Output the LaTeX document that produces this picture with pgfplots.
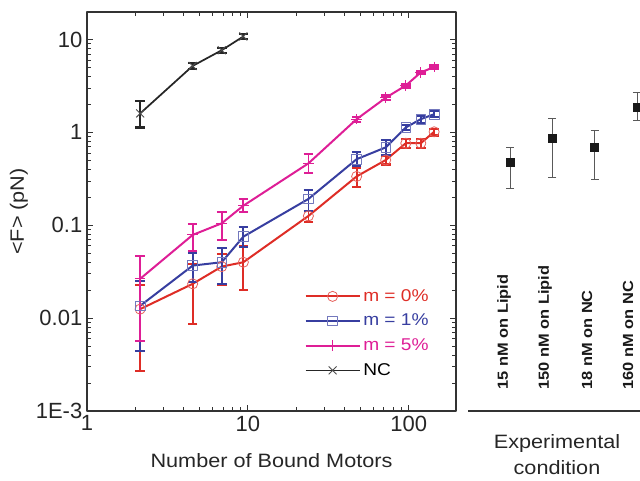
\documentclass[border=0pt]{standalone}
\usepackage{fontspec}
\setmainfont{Liberation Sans}
\newfontfamily\widefont{Liberation Sans}[FakeStretch=1.12]
\usepackage{pgfplots}
\usepackage{pgfplotstable}
\pgfplotsset{compat=1.18}

\definecolor{cred}{RGB}{222,45,38}
\definecolor{cblue}{RGB}{55,62,160}
\definecolor{cmag}{RGB}{222,30,150}

\pgfplotstableread{
x y ep em
2.14 0.0125 0.0103 0.0098
4.54 0.0234 0.0146 0.0148
6.88 0.0359 0.0131 0.0131
9.38 0.0400 0.0199 0.0199
23.8 0.126 0.0175 0.017
47.5 0.336 0.074 0.075
72 0.504 0.060 0.052
96 0.765 0.085 0.09
119 0.765 0.085 0.09
144 1.015 0.085 0.09
}\datared

\pgfplotstableread{
x y ep em
2.14 0.01356 0.0116 0.0091
4.54 0.0368 0.0132 0.0122
6.88 0.0400 0.0166 0.0166
9.38 0.0754 0.0196 0.0165
23.8 0.192 0.048 0.0485
47.5 0.515 0.10 0.08
72 0.69 0.136 0.12
96 1.13 0.07 0.07
119 1.39 0.11 0.12
144 1.57 0.14 0.12
}\datablue

\pgfplotstableread{
x y ep em
2.14 0.0265 0.0206 0.0208
4.54 0.0787 0.0243 0.0257
6.88 0.105 0.034 0.0355
9.38 0.1625 0.0275 0.0235
23.8 0.464 0.121 0.096
47.5 1.39 0.08 0.10
72 2.36 0.14 0.15
96 3.2 0.15 0.15
119 4.43 0.2 0.2
144 5.06 0.25 0.25
}\datamag

\pgfplotstableread{
x y ep em
2.14 1.60 0.57 0.47
4.54 5.2 0.4 0.4
6.88 7.67 0.5 0.5
9.38 10.8 0.6 0.6
}\datanc

\pgfplotstableread{
x y ep em
1 0.475 0.215 0.225
2 0.862 0.538 0.532
3 0.695 0.365 0.38
4 1.88 0.81 0.53
}\dataexp

\begin{document}
\begin{tikzpicture}
\begin{axis}[
  at={(0,0)}, anchor=south west, scale only axis,
  width=276.75pt, height=299.25pt,
  xmode=log, ymode=log,
  xmin=1, xmax=197, ymin=1e-3, ymax=19.8,
  xtick={1,10,100}, xticklabels={1,10,100},
  ytick={0.001,0.01,0.1,1,10}, yticklabels={1E-3,0.01,0.1,1,10},
  minor xtick={2,3,4,5,6,7,8,9,20,30,40,50,60,70,80,90},
  minor ytick={0.002,0.003,0.004,0.005,0.006,0.007,0.008,0.009,0.02,0.03,0.04,0.05,0.06,0.07,0.08,0.09,0.2,0.3,0.4,0.5,0.6,0.7,0.8,0.9,2,3,4,5,6,7,8,9},
  major tick length=4.5pt, minor tick length=2.8pt,
  every tick/.style={black!80, line width=0.6pt},
  axis line style={black!80, line width=0.8pt},
  tick label style={font=\fontsize{16.5}{19}\selectfont, text=black!85},
  xlabel={Number of Bound Motors},
  ylabel={<F> (pN)},
  label style={font=\widefont\fontsize{14.5}{17}\selectfont, text=black!85},
  xlabel style={yshift=-10pt},
  ylabel style={yshift=-1pt},
  legend cell align=left,
  legend style={draw=none, fill=none, at={(rel axis cs:0.589,0.313)}, anchor=north west,
    inner sep=0pt, row sep=3.5pt,
    font=\widefont\fontsize{12.8}{15}\selectfont,
    nodes={inner sep=2pt, text height=9pt, text depth=2pt},
    /tikz/every odd column/.append style={column sep=0pt}},
  legend image code/.code={\draw[mark repeat=2,mark phase=2] plot coordinates {(0pt,0pt) (20.25pt,0pt) (40.5pt,0pt)};},
  line join=round,
  error bars/error bar style={line width=1.3pt},
  error bars/error mark options={rotate=90, mark size=3.6pt, line width=1.6pt},
]
\addplot[cred, line width=1.5pt, mark=o, mark size=3.8pt, mark options={draw=cred!75, line width=0.6pt, fill=none},
  error bars/.cd, y dir=both, y explicit]
  table[x=x, y=y, y error plus=ep, y error minus=em]{\datared};
\addlegendentry{\textcolor{cred}{m = 0\%}}
\addplot[cblue, line width=1.5pt, mark=square, mark size=3.6pt, mark options={draw=cblue!70, line width=0.6pt, fill=none},
  error bars/.cd, y dir=both, y explicit]
  table[x=x, y=y, y error plus=ep, y error minus=em]{\datablue};
\addlegendentry{\textcolor{cblue}{m = 1\%}}
\addplot[cmag, line width=1.5pt, mark=+, mark size=4pt, mark options={draw=cmag, line width=0.8pt},
  error bars/.cd, y dir=both, y explicit]
  table[x=x, y=y, y error plus=ep, y error minus=em]{\datamag};
\addlegendentry{\textcolor{cmag}{m = 5\%}}
\addplot[black!85, line width=1.3pt, mark=x, mark size=4.2pt, mark options={draw=black!70, line width=0.7pt},
  error bars/.cd, y dir=both, y explicit]
  table[x=x, y=y, y error plus=ep, y error minus=em]{\datanc};
\addlegendentry{NC}
\end{axis}

\begin{axis}[
  at={(285.75pt,0)}, anchor=south west, scale only axis,
  width=158.4pt, height=299.25pt,
  ymode=log, ymin=1e-3, ymax=19.8,
  xmin=0, xmax=5,
  axis y line=none, axis x line*=bottom,
  x axis line style={-, black!80, line width=0.8pt},
  xtick=\empty, ytick=\empty,
  clip=false,
  error bars/error bar style={line width=0.6pt, black!65},
  error bars/error mark options={rotate=90, mark size=3pt, line width=0.6pt, black!65},
]
\addplot[only marks, mark=square*, mark size=3pt, mark options={fill=black!90, draw=black!90},
  error bars/.cd, y dir=both, y explicit]
  table[x=x, y=y, y error plus=ep, y error minus=em]{\dataexp};
\end{axis}

\begin{scope}[every node/.style={font=\widefont\bfseries\fontsize{11}{13}\selectfont, text=black!90, rotate=90, anchor=west, inner sep=0pt}]
\node at (312.75pt,15.75pt) {15 nM on Lipid};
\node at (343.5pt,15.75pt) {150 nM on Lipid};
\node at (375pt,15.75pt) {18 nM on NC};
\node at (405.75pt,15.75pt) {160 nM on NC};
\end{scope}
\node[font=\widefont\fontsize{14.5}{19.5}\selectfont, text=black!85, align=center, anchor=north, inner sep=0pt]
  at (352.5pt,-17.5pt) {Experimental\\condition};

\pgfresetboundingbox
\useasboundingbox (-65.25pt,-52.5pt) rectangle (414.75pt,308.25pt);
\end{tikzpicture}
\end{document}
